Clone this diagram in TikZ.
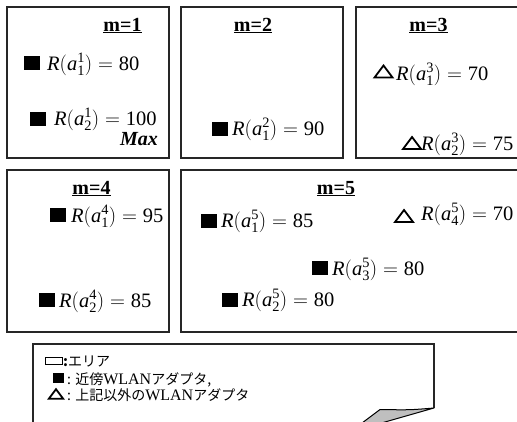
\documentclass[tikz,border=0pt]{standalone}
\usepackage{fontspec}
\setmainfont{Liberation Serif}
\newfontfamily\jpfont{Noto Sans CJK JP}
\tikzset{trimark/.pic={\draw[line width=1.8pt, line join=miter] (-9,6) -- (9,6) -- (0,-6) -- cycle;}}
\newcommand*\rv[3]{$\mathit{R}(\mathit{a}^{\mathrm{#2}}_{\mathrm{#1}}) = {}$\rmfamily#3}

\begin{document}
\begin{tikzpicture}[
        x=1pt, y=-1pt,
        area/.style={draw=black!85, line width=2pt},
        sq/.style={fill=black, inner sep=0pt, minimum width=16pt, minimum height=14pt},
        val/.style={anchor=base west, inner sep=0pt, font=\fontsize{20.5}{22}\selectfont},
        head/.style={anchor=base, inner sep=0pt, font=\bfseries\fontsize{20}{22}\selectfont},
        legend/.style={anchor=base west, inner sep=0pt, font=\jpfont\fontsize{14}{16}\selectfont}
    ]
    \useasboundingbox (0,0) rectangle (517,421);
    \clip (0,0) rectangle (517,421);
    % areas
    \draw[area] (7,7) rectangle (169,158);
    \draw[area] (181,7) rectangle (343,158);
    \draw[area] (356,7) rectangle (530,158);
    \draw[area] (7,170) rectangle (169,332);
    \draw[area] (181,170) rectangle (530,332);
    \node[head] (m1) at (122.5,31) {\underline{m=1}};
    \node[head] (m2) at (253,31) {\underline{m=2}};
    \node[head] (m3) at (428.5,31) {\underline{m=3}};
    \node[head] (m4) at (91.5,194) {\underline{m=4}};
    \node[head] (m5) at (336,194) {\underline{m=5}};
    % m=1
    \node[sq] (s11) at (31.5,62.5) {};
    \node[val] (r11) at (47,70) {\rv{1}{1}{80}};
    \node[sq] (s21) at (38,118.5) {};
    \node[val] (r21) at (54,125) {\rv{2}{1}{100}};
    \node[anchor=base east, inner sep=0pt, font=\bfseries\itshape\fontsize{20}{22}\selectfont] (max) at (158,145) {Max};
    % m=2
    \node[sq] (s12) at (220,128.5) {};
    \node[val] (r12) at (232,135) {\rv{1}{2}{90}};
    % m=3
    \pic (t13) at (383.5,71.5) {trimark};
    \node[val] (r13) at (396,80) {\rv{1}{3}{70}};
    \pic (t23) at (412,143) {trimark};
    \node[val] (r23) at (421,150) {\rv{2}{3}{75}};
    % m=4
    \node[sq] (s14) at (58,215) {};
    \node[val] (r14) at (71,222) {\rv{1}{4}{95}};
    \node[sq] (s24) at (46.5,300) {};
    \node[val] (r24) at (59,307) {\rv{2}{4}{85}};
    % m=5
    \node[sq] (s15) at (208.5,220.5) {};
    \node[val] (r15) at (221,227) {\rv{1}{5}{85}};
    \pic (t45) at (404,216) {trimark};
    \node[val] (r45) at (421,220) {\rv{4}{5}{70}};
    \node[sq] (s35) at (320,267.5) {};
    \node[val] (r35) at (332,275) {\rv{3}{5}{80}};
    \node[sq] (s25) at (230,299.5) {};
    \node[val] (r25) at (242,306) {\rv{2}{5}{80}};
    % legend
    \draw[area, line width=1.5pt] (434,408) -- (434,344) -- (33,344) -- (33,440) -- (352,440);
    \draw[fill=black!25, line width=1pt, line join=round] (434,408) .. controls (410,410) .. (380,409.5) -- (350,432) -- cycle;
    \draw[line width=0.8pt] (45,357) rectangle (62,364);
    \node[legend] (l1) at (63,366) {\textbf{:}エリア};
    \node[sq, minimum width=11pt, minimum height=10pt] (ls) at (58,378) {};
    \node[legend] (l2) at (67,384) {: 近傍{\rmfamily\fontsize{16}{16}\selectfont WLAN}アダプタ,};
    \pic[scale=0.8] (lt) at (56,394) {trimark};
    \node[legend] (l3) at (67,400) {: 上記以外の{\rmfamily\fontsize{16}{16}\selectfont WLAN}アダプタ};
\end{tikzpicture}
\end{document}
